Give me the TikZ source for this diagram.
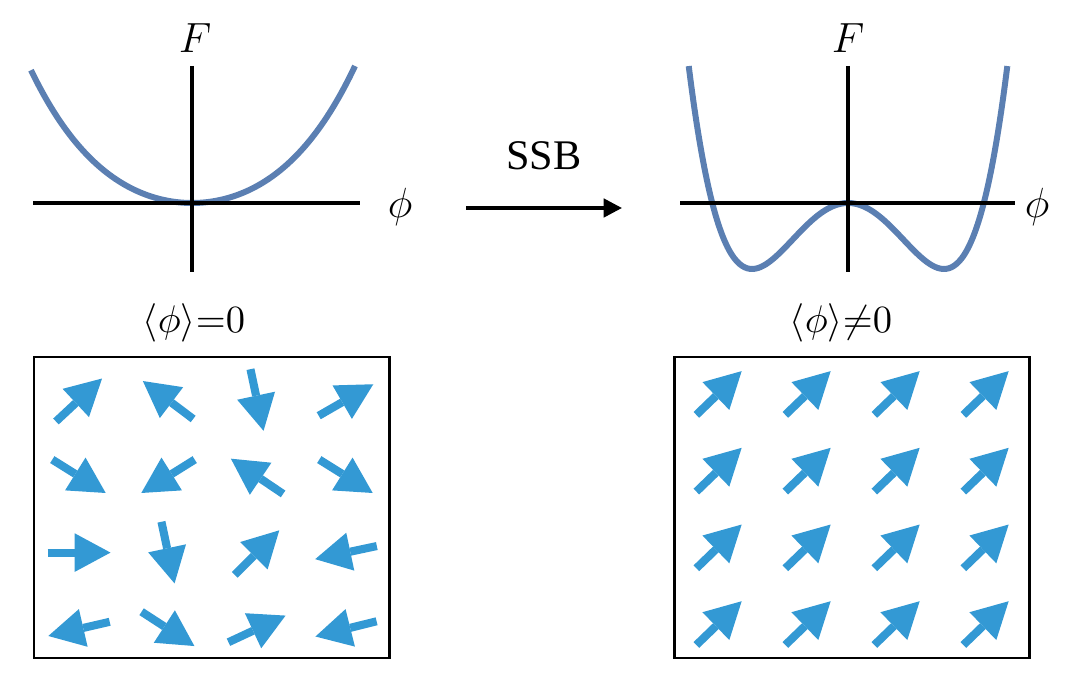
\documentclass[tikz,border=0pt]{standalone}
\usepackage{amsmath}
\usepackage{amssymb}
\usepackage{fontspec}
\setmainfont{Liberation Serif}
\usetikzlibrary{arrows.meta}
\definecolor{curveblue}{RGB}{91,127,178}
\definecolor{spinblue}{RGB}{51,153,212}

\begin{document}
\begin{tikzpicture}[x=0.01cm, y=0.01cm,
  axis/.style = {line width=1pt},
  pot/.style = {curveblue, line width=1.7pt, smooth, samples=120},
  spin/.style = {spinblue, line width=2.3pt,
    -{Triangle[length=10.2pt, width=11pt, line width=0pt]}},
  lab/.style = {font=\fontsize{12}{14}\selectfont, inner sep=0pt},
  frame/.style = {line width=0.85pt}]
\useasboundingbox (0,0) rectangle (1080,-683);

% free energy before SSB
\draw[pot] plot[domain=-161:163] (192+\x, {-203+101*(\x/163)^2+36*(\x/163)^4});
\draw[axis] (33,-203) -- (360,-203);
\draw[axis] (192,-66) -- (192,-272);
\node[lab] (F1) at (195,-38) {$F$};
\node[lab] (p1) at (400,-207) {$\phi$};
\node[lab, font=\fontsize{11}{13}\selectfont] (v1) at (194,-323) {$\langle\phi\rangle{=}0$};

% free energy after SSB
\draw[pot] plot[domain=-159.3:159.3] (848+\x, {-203+66*((\x/96)^4-2*(\x/96)^2)});
\draw[axis] (680,-203) -- (1015,-203);
\draw[axis] (848,-66) -- (848,-272);
\node[lab] (F2) at (848,-38) {$F$};
\node[lab] (p2) at (1037,-207) {$\phi$};
\node[lab, font=\fontsize{11}{13}\selectfont] (v2) at (841,-323) {$\langle\phi\rangle{\neq}0$};

% SSB arrow
\coordinate (s1) at (466,-208);
\coordinate (s2) at (622,-208);
\draw[axis, -{Triangle[length=5.2pt, width=5.2pt]}] (s1) -- node[above=7pt, font=\fontsize{12}{14}\selectfont] (ssb) {SSB} (s2);

% disordered spins
\draw[frame] (34,-357) rectangle (389,-658);
\foreach \a [count=\i from 0] in {43,143,-78,30, -32,-148,146,-32, 0,-78,45,192, 193,-33,25,194} {
  \pgfmathtruncatemacro\c{mod(\i,4)}
  \pgfmathtruncatemacro\r{div(\i,4)}
  \draw[spin] ([shift={(\a:-31.5)}] 79+89*\c, -400-76.3*\r) -- ++(\a:63);
}

% ordered spins
\draw[frame] (674,-357) rectangle (1029,-658);
\foreach \c in {0,...,3}
  \foreach \r in {0,...,3}
    \draw[spin] ([shift={(44:-31.5)}] 719+89*\c, -393-76.7*\r) -- ++(44:63);
\end{tikzpicture}
\end{document}
